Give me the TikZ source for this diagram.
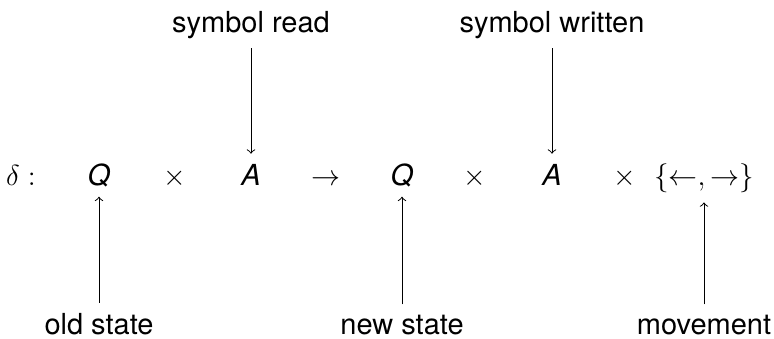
\documentclass[tikz,border=0pt,12pt]{standalone}
\usepackage[no-math]{fontspec}
\setmainfont{TeX Gyre Heros}
\begin{document}
\begin{tikzpicture}[x=0.414pt,y=-0.414pt,
  sym/.style={anchor=base},
  lab/.style={anchor=base},
  arr/.style={->, line width=0.4pt}]
\useasboundingbox (0,0) rectangle (774,338);
\node[sym] (delta) at (21,185) {$\delta:$};
\node[sym] (Q1) at (99,185) {\textit{Q}};
\node[sym] (x1) at (175,185) {$\times$};
\node[sym] (A1) at (251,185) {\textit{A}};
\node[sym] (to) at (326,185) {$\rightarrow$};
\node[sym] (Q2) at (402,185) {\textit{Q}};
\node[sym] (x2) at (475,185) {$\times$};
\node[sym] (A2) at (552,185) {\textit{A}};
\node[sym] (x3) at (625,185) {$\times$};
\node[sym] (mv) at (704,185) {$\{\leftarrow,\rightarrow\}$};
\node[lab] (read) at (251,32) {symbol read};
\node[lab] (written) at (552,32) {symbol written};
\node[lab] (old) at (99,334) {old state};
\node[lab] (new) at (402,334) {new state};
\node[lab] (move) at (704,334) {movement};
\draw[arr] (read) -- (A1);
\draw[arr] (written) -- (A2);
\draw[arr] (old) -- (Q1);
\draw[arr] (new) -- (Q2);
\draw[arr] (move) -- (mv);
\end{tikzpicture}
\end{document}
